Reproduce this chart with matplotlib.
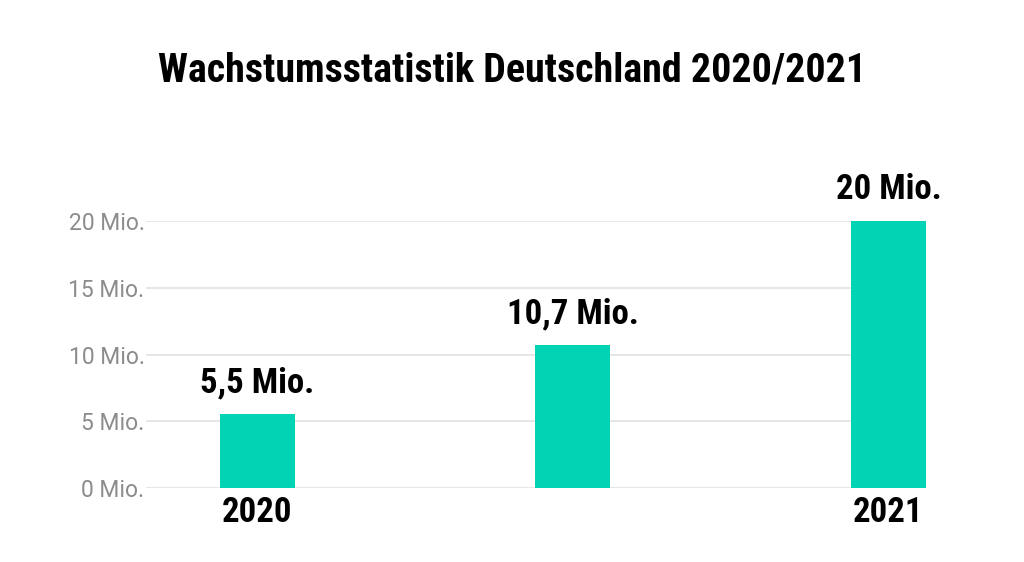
import matplotlib
matplotlib.use("Agg")
import matplotlib.pyplot as plt

# data
categories = ["2020", "", "2021"]
values = [5.5, 10.7, 20]
value_labels = ["5,5 Mio.", "10,7 Mio.", "20 Mio."]
y_ticks = [0, 5, 10, 15, 20]
y_tick_labels = ["0 Mio.", "5 Mio.", "10 Mio.", "15 Mio.", "20 Mio."]

bold_font = ["Roboto Condensed", "Liberation Sans Narrow", "DejaVu Sans"]
light_font = ["Roboto", "DejaVu Sans"]

fig = plt.figure(figsize=(10.24, 5.62), dpi=100)
ax = fig.add_axes([146 / 1024, 1 - 487.7 / 562, 780 / 1024, 266.4 / 562])

x = range(len(values))
bars = ax.bar(x, values, width=0.238, color="#00d4b4", zorder=3)

ax.set_xlim(-0.352, 2.119)
ax.set_ylim(0, 20)

ax.set_yticks(y_ticks)
ax.set_yticklabels(y_tick_labels, family=light_font, fontweight="normal",
                   fontsize=16.5, color="#8c8c8c")
ax.set_xticks(list(x))
ax.set_xticklabels(categories, family=bold_font, fontweight="bold",
                   fontsize=25, color="black")
ax.tick_params(axis="both", length=0)
ax.tick_params(axis="y", pad=1)
ax.tick_params(axis="x", pad=6)

ax.grid(axis="y", color="#e3e3e3", linewidth=1.2, zorder=0)
for s in ax.spines.values():
    s.set_visible(False)

ax.bar_label(bars, labels=value_labels, padding=11, family=bold_font,
             fontweight="bold", fontsize=25, color="black")

fig.text(0.5, 1 - 82 / 562, "Wachstumsstatistik Deutschland 2020/2021",
         ha="center", va="baseline", family=bold_font, fontweight="bold",
         fontsize=28.8, color="black")

fig.savefig("out.png", dpi=100)
